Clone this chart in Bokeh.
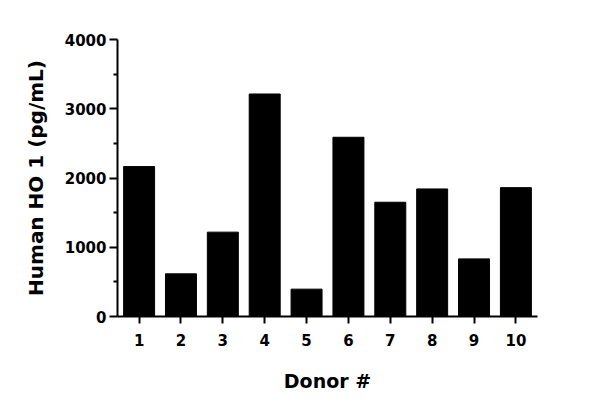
from bokeh.plotting import figure
from bokeh.models import ColumnDataSource, FixedTicker, Range1d
from bokeh.embed import file_html
from bokeh.resources import INLINE

donors = [1, 2, 3, 4, 5, 6, 7, 8, 9, 10]
values = [2165, 616, 1218, 3213, 395, 2588, 1650, 1842, 832, 1861]
y_ticks = [0, 1000, 2000, 3000, 4000]
y_minor = [500, 1500, 2500, 3500]

FONT = "DejaVu Sans"

src = ColumnDataSource(dict(x=donors, top=values))

p = figure(width=584, height=397, output_backend="svg", toolbar_location=None,
           x_range=Range1d(0.484, 10.516), y_range=Range1d(0, 4000),
           min_border_left=117, min_border_right=47, min_border_top=39, min_border_bottom=81)
p.vbar(x="x", top="top", width=0.74, source=src, color="black")

p.grid.visible = False
p.outline_line_color = None

for ax in (p.xaxis[0], p.yaxis[0]):
    ax.axis_line_width = 2
    ax.major_tick_line_width = 2
    ax.minor_tick_line_width = 2
    ax.major_label_text_font = FONT
    ax.major_label_text_font_style = "bold"
    ax.major_label_text_font_size = "15px"
    ax.major_label_text_color = "black"
    ax.axis_label_text_font = FONT
    ax.axis_label_text_font_style = "bold"
    ax.axis_label_text_color = "black"

p.xaxis.ticker = FixedTicker(ticks=donors)
p.xaxis.major_tick_in = 0
p.xaxis.major_tick_out = 7
p.xaxis.minor_tick_out = 0
p.xaxis.major_label_standoff = 10
p.xaxis.axis_label = "Donor #"
p.xaxis.axis_label_text_font_size = "19px"
p.xaxis.axis_label_standoff = 21

p.yaxis.ticker = FixedTicker(ticks=y_ticks, minor_ticks=y_minor)
p.yaxis.major_tick_in = 0
p.yaxis.major_tick_out = 8
p.yaxis.minor_tick_in = 0
p.yaxis.minor_tick_out = 4
p.yaxis.major_label_standoff = 3
p.yaxis.axis_label = "Human HO 1 (pg/mL)"
p.yaxis.axis_label_text_font_size = "20px"
p.yaxis.axis_label_standoff = 14

open("out.html", "w").write(file_html(p, INLINE))
